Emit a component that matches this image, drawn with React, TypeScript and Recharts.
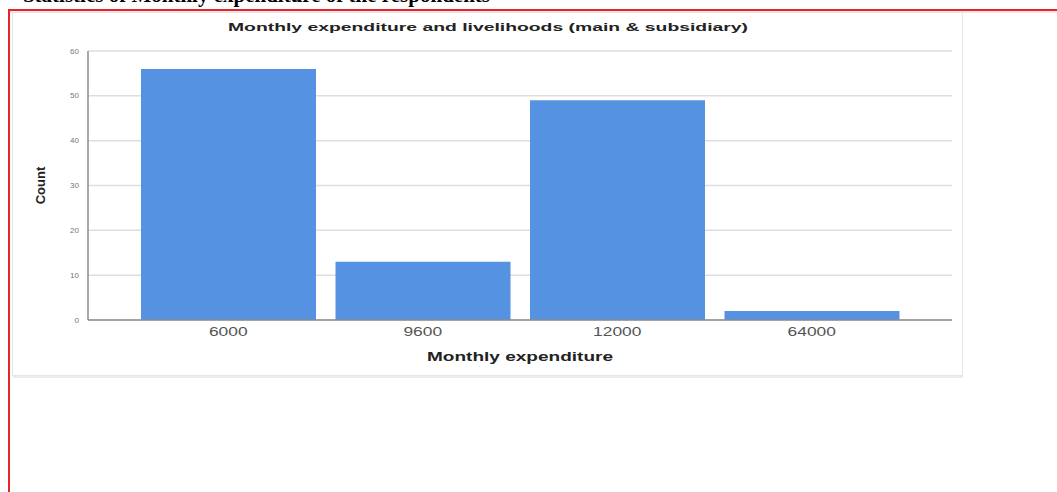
import { BarChart, Bar, XAxis, YAxis, CartesianGrid, Label } from 'recharts'

const categories = ['6000', '9600', '12000', '64000']
const counts = [56, 13, 49, 2]
const yTicks = [0, 10, 20, 30, 40, 50, 60]

const data = categories.map((c, i) => ({ name: c, count: counts[i] }))

const FONT = '"Liberation Sans", Arial, sans-serif'

function XTick({ x, y, payload }: any) {
  return (
    <text
      transform={`translate(${x},${y + 12}) scale(1.45,1)`}
      textAnchor="middle"
      dominantBaseline="central"
      fontFamily={FONT}
      fontSize={12}
      fill="#555"
    >
      {payload.value}
    </text>
  )
}

function YTick({ x, y, payload }: any) {
  return (
    <text
      x={x - 9}
      y={y}
      textAnchor="end"
      dominantBaseline="central"
      fontFamily={FONT}
      fontSize={8}
      fill="#777"
    >
      {payload.value}
    </text>
  )
}

function XTitle({ viewBox }: any) {
  const cx = viewBox.x + viewBox.width / 2
  return (
    <text
      x={cx}
      y={viewBox.y + 37}
      textAnchor="middle"
      dominantBaseline="central"
      fontFamily={FONT}
      fontWeight="bold"
      fontSize={12}
      fill="#222"
      textLength={186}
      lengthAdjust="spacingAndGlyphs"
    >
      Monthly expenditure
    </text>
  )
}

function YTitle({ viewBox }: any) {
  const cy = viewBox.y + viewBox.height / 2
  return (
    <text
      x={28}
      y={cy}
      transform={`rotate(-90, 28, ${cy})`}
      textAnchor="middle"
      dominantBaseline="central"
      fontFamily={FONT}
      fontWeight="bold"
      fontSize={13}
      fill="#222"
    >
      Count
    </text>
  )
}

export default function App() {
  return (
    <div style={{ position: 'absolute', left: 0, top: 0, width: 1057, height: 492, background: '#fff', overflow: 'hidden' }}>
      <svg width={1057} height={492} style={{ position: 'absolute', left: 0, top: 0 }}>
        <text
          x={490}
          y={2}
          textAnchor="end"
          fontFamily='"Liberation Serif", "Times New Roman", serif'
          fontWeight="bold"
          fontSize={21}
          fill="#000"
        >
          Statistics of Monthly expenditure of the respondents
        </text>
        <line x1={9} y1={10} x2={1057} y2={10} stroke="#e3262b" strokeWidth={2} />
        <line x1={9} y1={12} x2={1057} y2={12} stroke="#f6c4c4" strokeWidth={1} />
        <line x1={9} y1={9} x2={9} y2={492} stroke="#e3262b" strokeWidth={2} />
        <rect x={12.5} y={12.5} width={950} height={363} fill="#fff" stroke="#e6e6e6" />
        <line x1={13} y1={377} x2={963} y2={377} stroke="#ececec" strokeWidth={2} />
        <text
          x={488}
          y={27}
          textAnchor="middle"
          dominantBaseline="central"
          fontFamily={FONT}
          fontWeight="bold"
          fontSize={11}
          fill="#222"
          textLength={520}
          lengthAdjust="spacingAndGlyphs"
        >
          Monthly expenditure and livelihoods (main &amp; subsidiary)
        </text>
      </svg>
      <div style={{ position: 'absolute', left: 12, top: 12 }}>
        <BarChart
          width={950}
          height={364}
          data={data}
          margin={{ top: 39, right: 10, left: 0, bottom: 0 }}
          barCategoryGap={10}
        >
          <CartesianGrid vertical={false} stroke="#dedede" strokeWidth={1.5} />
          <XAxis
            dataKey="name"
            height={56}
            padding={{ left: 43, right: 43 }}
            tickLine={false}
            tickSize={0}
            tickMargin={0}
            axisLine={{ stroke: '#8c8c8c', strokeWidth: 1.5 }}
            tick={<XTick />}
            interval={0}
          >
            <Label content={<XTitle />} />
          </XAxis>
          <YAxis
            width={76}
            domain={[0, 60]}
            ticks={yTicks}
            tickLine={false}
            tickSize={0}
            tickMargin={0}
            axisLine={{ stroke: '#8c8c8c', strokeWidth: 1.5 }}
            tick={<YTick />}
            interval={0}
          >
            <Label content={<YTitle />} />
          </YAxis>
          <Bar dataKey="count" fill="#5592e1" isAnimationActive={false} />
        </BarChart>
      </div>
    </div>
  )
}
